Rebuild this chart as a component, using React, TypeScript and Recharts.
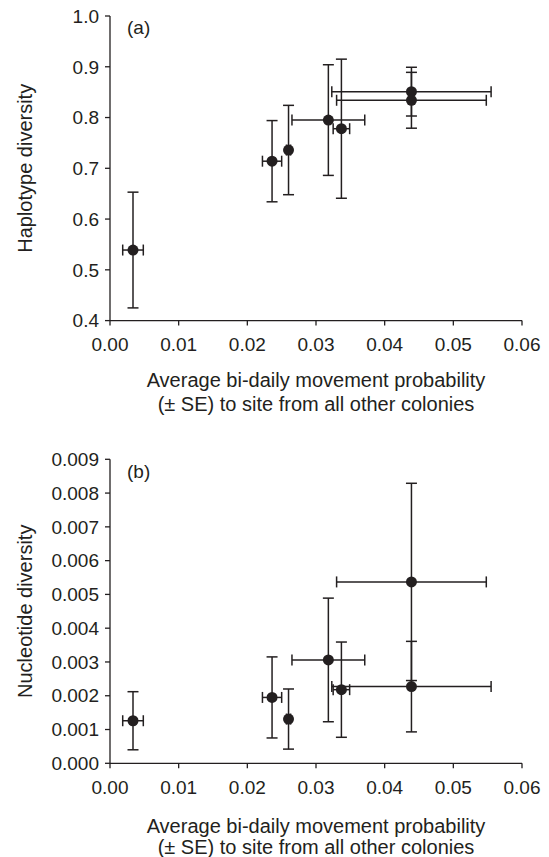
import React from "react";
import { ScatterChart, Scatter, XAxis, YAxis, ErrorBar, Label } from "recharts";

// bi-daily movement probability per colony (x) and its SE
const moveProb = [0.00335, 0.0236, 0.026, 0.0318, 0.0337, 0.0439, 0.0439];
const moveSE = [0.0015, 0.0014, 0.0003, 0.0053, 0.0012, 0.0116, 0.0109];

// panel (a)
const haplotypeDiv = [0.539, 0.714, 0.736, 0.795, 0.778, 0.851, 0.834];
const haplotypeSE = [0.114, 0.08, 0.088, 0.109, 0.137, 0.048, 0.055];

// panel (b)
const nucleotideDiv = [0.00126, 0.00195, 0.00131, 0.00306, 0.00218, 0.00227, 0.00537];
const nucleotideSE = [0.00086, 0.0012, 0.00089, 0.00183, 0.00141, 0.00134, 0.00292];

const xTicks = [0, 0.01, 0.02, 0.03, 0.04, 0.05, 0.06];
const hapTicks = [0.4, 0.5, 0.6, 0.7, 0.8, 0.9, 1.0];
const nucTicks = [0, 0.001, 0.002, 0.003, 0.004, 0.005, 0.006, 0.007, 0.008, 0.009];

const ink = "#231f20";
const font = "'Liberation Sans', Arial, sans-serif";

const hapData = moveProb.map((x, i) => ({ x, ex: moveSE[i], y: haplotypeDiv[i], ey: haplotypeSE[i] }));
const nucData = moveProb.map((x, i) => ({ x, ex: moveSE[i], y: nucleotideDiv[i], ey: nucleotideSE[i] }));

function XTitle(props: any) {
  const { viewBox, dy1, dy2 } = props;
  const cx = viewBox.x + viewBox.width / 2;
  return (
    <text textAnchor="middle" fontSize={20} fill={ink} fontFamily={font}>
      <tspan x={cx} y={viewBox.y + dy1}>Average bi-daily movement probability</tspan>
      <tspan x={cx} y={viewBox.y + dy2}>(± SE) to site from all other colonies</tspan>
    </text>
  );
}

function YTitle(props: any) {
  const { viewBox, title, tag, tagY } = props;
  const cy = viewBox.y + viewBox.height / 2;
  return (
    <g fontFamily={font} fill={ink}>
      <text
        x={25}
        y={cy}
        fontSize={20}
        textAnchor="middle"
        dominantBaseline="central"
        transform={`rotate(-90, 25, ${cy})`}
      >
        {title}
      </text>
      <text x={127} y={tagY} fontSize={19}>
        {tag}
      </text>
    </g>
  );
}

const dot = (p: any) => <circle cx={p.cx} cy={p.cy} r={5.5} fill={ink} />;

type PanelProps = {
  data: any[];
  yTicks: number[];
  digits: number;
  top: number;
  height: number;
  bottom: number;
  title: string;
  tag: string;
  tagY: number;
  dy1: number;
  dy2: number;
};

function Panel({ data, yTicks, digits, top, height, bottom, title, tag, tagY, dy1, dy2 }: PanelProps) {
  const axisStyle = { stroke: ink, strokeWidth: 1.3 };
  const tickStyle = { fill: ink, fontSize: 19, fontFamily: font };
  return (
    <ScatterChart width={549} height={height} margin={{ top, right: 27, left: 0, bottom: 0 }}>
      <XAxis
        type="number"
        dataKey="x"
        domain={[0, 0.06]}
        ticks={xTicks}
        allowDataOverflow
        tickFormatter={(v: number) => v.toFixed(2)}
        tickSize={5}
        tickMargin={12}
        height={bottom}
        axisLine={axisStyle}
        tickLine={axisStyle}
        fontSize={19}
        fontFamily={font}
        tick={tickStyle}
      >
        <Label content={<XTitle dy1={dy1} dy2={dy2} />} />
      </XAxis>
      <YAxis
        type="number"
        dataKey="y"
        domain={[yTicks[0], yTicks[yTicks.length - 1]]}
        ticks={yTicks}
        allowDataOverflow
        tickFormatter={(v: number) => v.toFixed(digits)}
        tickSize={5}
        tickMargin={6}
        width={110}
        axisLine={axisStyle}
        tickLine={axisStyle}
        fontSize={19}
        fontFamily={font}
        tick={tickStyle}
      >
        <Label content={<YTitle title={title} tag={tag} tagY={tagY} />} />
      </YAxis>
      <Scatter data={data} shape={dot} isAnimationActive={false}>
        <ErrorBar dataKey="ey" direction="y" width={5.5} stroke={ink} strokeWidth={1.5} isAnimationActive={false} />
        <ErrorBar dataKey="ex" direction="x" width={5.5} stroke={ink} strokeWidth={1.5} isAnimationActive={false} />
      </Scatter>
    </ScatterChart>
  );
}

export default function App() {
  return (
    <div style={{ position: "absolute", left: 0, top: 0, width: 549, height: 857, background: "#fff" }}>
      <div style={{ position: "absolute", left: 0, top: 0 }}>
        <Panel
          data={hapData}
          yTicks={hapTicks}
          digits={1}
          top={16}
          height={420}
          bottom={99.4}
          title="Haplotype diversity"
          tag="(a)"
          tagY={34}
          dy1={66.4}
          dy2={90}
        />
      </div>
      <div style={{ position: "absolute", left: 0, top: 420 }}>
        <Panel
          data={nucData}
          yTicks={nucTicks}
          digits={3}
          top={39.3}
          height={437}
          bottom={93.7}
          title="Nucleotide diversity"
          tag="(b)"
          tagY={57.5}
          dy1={69.7}
          dy2={91}
        />
      </div>
    </div>
  );
}
